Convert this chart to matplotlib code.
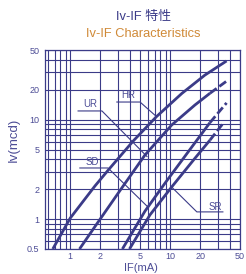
import numpy as np
import matplotlib
matplotlib.use("Agg")
import matplotlib.pyplot as plt
from matplotlib.ticker import FixedLocator, LogLocator, NullFormatter, FuncFormatter

plt.rcParams['font.family'] = ['Liberation Sans', 'Noto Sans CJK JP', 'DejaVu Sans']

# Данные (Iv-IF), значения
if_hr = [0.67, 1.0, 1.77, 2.4, 4.28, 7.3, 13.1, 22.3, 36.7]
iv_hr = [0.5, 1.02, 2.15, 3.1, 6.1, 10.7, 18.3, 28.0, 38.8]

if_ur = [1.24, 1.77, 3.27, 5.6, 10.35, 17.7, 25.0, 38.1]
iv_ur = [0.5, 0.84, 2.04, 4.4, 8.8, 14.0, 18.35, 25.0]

if_sd = [3.33, 5.6, 8.9, 15.2, 25.0, 36.7]
iv_sd = [0.5, 1.2, 2.3, 4.75, 9.3, 14.7]

if_sr = [3.92, 6.28, 10.4, 17.7, 25.0, 34.0]
iv_sr = [0.5, 1.1, 2.11, 4.08, 6.2, 9.2]

if_rated = 25.0  # дальше пунктир

x_ticks = [1, 2, 5, 10, 20, 50]
y_ticks = [0.5, 1, 2, 5, 10, 20, 50]

navy = '#3b3b88'
label_c = '#4d4d96'
orange = '#d08a38'

fig = plt.figure(figsize=(2.46, 2.74), dpi=100)
ax = fig.add_axes([45 / 246, 25 / 274, 195 / 246, 199 / 274])
ax.set_xscale('log')
ax.set_yscale('log')
ax.set_xlim(0.56, 50)
ax.set_ylim(0.5, 50)

for axis, ticks in ((ax.xaxis, x_ticks), (ax.yaxis, y_ticks)):
    axis.set_major_locator(FixedLocator(ticks))
    axis.set_minor_locator(LogLocator(base=10, subs=np.arange(1, 10)))
    axis.set_minor_formatter(NullFormatter())
    axis.set_major_formatter(FuncFormatter(lambda v, p: '%g' % v))

ax.tick_params(which='both', length=0, labelsize=6.5, labelcolor=label_c)
ax.tick_params(axis='x', pad=2.5)
ax.tick_params(axis='y', pad=4)
ax.grid(which='both', color=navy, lw=0.8)
for s in ax.spines.values():
    s.set_color(navy)
    s.set_linewidth(0.9)


def draw_curve(xs, ys, lim):
    xs = np.array(xs)
    ys = np.array(ys)
    solid = xs <= lim
    dash = xs >= lim
    ax.plot(xs[solid], ys[solid], color=navy, lw=2.0, solid_capstyle='butt')
    if dash.sum() > 1:
        ax.plot(xs[dash], ys[dash], color=navy, lw=2.0, dashes=(3, 1.2))


draw_curve(if_hr, iv_hr, 100)
draw_curve(if_ur, iv_ur, if_rated)
draw_curve(if_sd, iv_sd, if_rated)
draw_curve(if_sr, iv_sr, if_rated)


# подписи с выносками
def tag(name, tx, ty, u0, u1, uy, px, py):
    ax.text(tx, ty, name, fontsize=7, color=label_c, ha='center', va='center')
    ax.plot([u0, u1, px], [uy, uy, py], color=navy, lw=0.8)


tag('HR', 3.79, 17.6, 2.93, 5.0, 15.0, 7.32, 10.69)
tag('UR', 1.58, 14.3, 1.20, 2.08, 12.2, 5.87, 4.25)
tag('SD', 1.65, 3.74, 1.25, 2.39, 3.26, 6.0, 1.32)
ax.text(28.0, 1.33, 'SR', fontsize=7, color=label_c, ha='center', va='center')
ax.plot([33.7, 18.5, 10.1], [1.18, 1.18, 2.15], color=navy, lw=0.8)

fig.text(143 / 246, 1 - 17 / 274, 'Iv-IF 特性', color=navy, fontsize=9.3,
         ha='center', va='center')
fig.text(143 / 246, 1 - 34 / 274, 'Iv-IF Characteristics', color=orange,
         fontsize=9.3, ha='center', va='center')
fig.text(14 / 246, 1 - 140 / 274, 'Iv(mcd)', color=label_c, fontsize=9.5,
         rotation=90, ha='center', va='center')
fig.text(141 / 246, 1 / 274, 'IF(mA)', color=label_c, fontsize=8,
         ha='center', va='bottom')

fig.savefig('out.png', dpi=100)
